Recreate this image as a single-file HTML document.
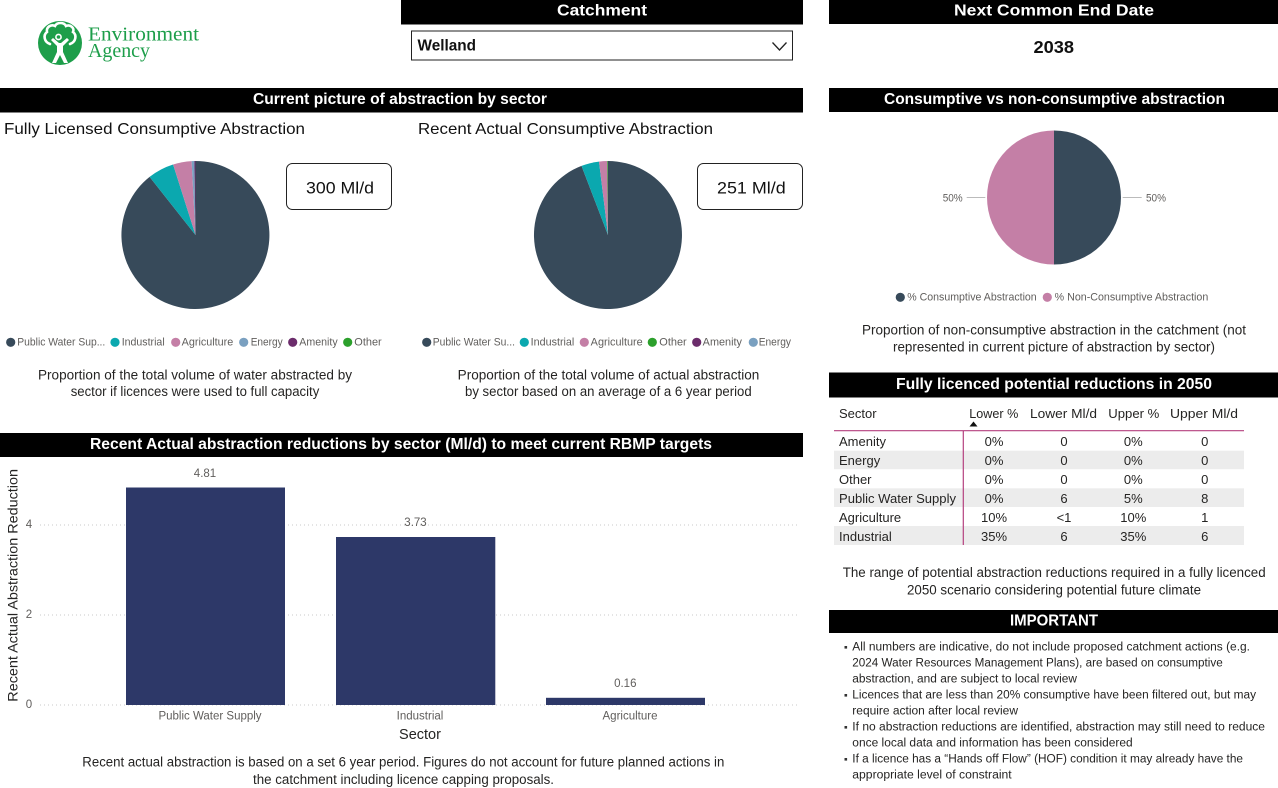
<!DOCTYPE html>
<html><head><meta charset="utf-8"><style>
html,body{margin:0;padding:0;background:#fff;width:1278px;height:788px;overflow:hidden}
svg{display:block;font-family:"Liberation Sans",Arial,sans-serif}
.hb{fill:#000}
.ht{font-weight:bold;fill:#fff;font-size:16px;dominant-baseline:central}
.cap{font-size:13.5px;fill:#252423;dominant-baseline:central}
.lg{font-size:10.6px;fill:#605e5c;dominant-baseline:central}
.tb{font-size:13px;fill:#252423;dominant-baseline:central}
.bl{font-size:11.5px;fill:#252423;dominant-baseline:central}
.ax{font-size:11.5px;fill:#605e5c;dominant-baseline:central}
</style></head><body>
<svg width="1278" height="788" viewBox="0 0 1278 788" xmlns="http://www.w3.org/2000/svg">
<rect width="1278" height="788" fill="#fff"/>

<!-- Logo -->
<circle cx="60" cy="43" r="22" fill="#1d9e4a"/>
<path d="M50,44 C44,42 43,35 47,32 C46,27 51,24 55,26 C57,22 64,22 66,26 C70,24 75,28 73,32 C77,35 76,42 70,44" fill="none" stroke="#fff" stroke-width="2.6" stroke-linecap="round"/>
<circle cx="58.5" cy="37" r="2.6" fill="none" stroke="#fff" stroke-width="1.6"/>
<path d="M51,40 L57,46 L57,52 L52,63 L56,63 L60,55 L64,63 L68,63 L63,52 L63,46 L69,40 L67,38 L61,43 L59,43 L53,38 Z" fill="#fff"/>
<text x="88" y="40.5" font-family="'Liberation Serif',serif" font-size="20" fill="#1d9e4a" textLength="111" lengthAdjust="spacingAndGlyphs">Environment</text>
<text x="88" y="57" font-family="'Liberation Serif',serif" font-size="20" fill="#1d9e4a" textLength="62" lengthAdjust="spacingAndGlyphs">Agency</text>

<!-- Catchment -->
<rect class="hb" x="401" y="0" width="402" height="24.5"/>
<text class="ht" x="557" y="11" font-size="18" textLength="90" lengthAdjust="spacingAndGlyphs">Catchment</text>
<rect x="411.5" y="31" width="381" height="29" fill="#fff" stroke="#222" stroke-width="1"/>
<text x="417.5" y="46" font-size="15.5" font-weight="bold" fill="#111" dominant-baseline="central" textLength="58.5" lengthAdjust="spacingAndGlyphs">Welland</text>
<polyline points="772.5,42.5 779.5,50 786.5,42.5" fill="none" stroke="#222" stroke-width="1.3"/>

<!-- Next common end date -->
<rect class="hb" x="829" y="0" width="449" height="24"/>
<text class="ht" x="954" y="11" font-size="18" textLength="200" lengthAdjust="spacingAndGlyphs">Next Common End Date</text>
<text x="1033.5" y="47" font-size="17.5" font-weight="bold" fill="#111" dominant-baseline="central" textLength="40.5" lengthAdjust="spacingAndGlyphs">2038</text>

<!-- Current picture bar -->
<rect class="hb" x="0" y="88" width="803" height="24.5"/>
<text class="ht" x="253" y="99.5" textLength="294" lengthAdjust="spacingAndGlyphs">Current picture of abstraction by sector</text>

<text x="4" y="129.5" font-size="16" fill="#111" dominant-baseline="central" textLength="301" lengthAdjust="spacingAndGlyphs">Fully Licensed Consumptive Abstraction</text>
<text x="418" y="129.5" font-size="16" fill="#111" dominant-baseline="central" textLength="295" lengthAdjust="spacingAndGlyphs">Recent Actual Consumptive Abstraction</text>

<!-- Pie 1 -->
<path d="M195.5,235 L195.5,161 A74,74 0 1 1 149.6,176.9 Z" fill="#374a5a"/>
<path d="M195.5,235 L149.6,176.9 A74,74 0 0 1 173.1,164.5 Z" fill="#0ba8af"/>
<path d="M195.5,235 L173.1,164.5 A74,74 0 0 1 191.6,161.1 Z" fill="#c47fa6"/>
<path d="M195.5,235 L191.6,161.1 A74,74 0 0 1 194.4,161 Z" fill="#7aa0c0"/>
<path d="M195.5,235 L194.4,161 A74,74 0 0 1 195.5,161 Z" fill="#6b2c6b"/>

<rect x="286.5" y="163.5" width="105" height="46" rx="6" fill="#fff" stroke="#222" stroke-width="1"/>
<text x="306" y="188" font-size="17" fill="#111" dominant-baseline="central" textLength="68" lengthAdjust="spacingAndGlyphs">300 Ml/d</text>

<g>
<circle cx="10.7" cy="342.3" r="4.6" fill="#374a5a"/>
<text class="lg" x="17.3" y="342.3" textLength="88" lengthAdjust="spacingAndGlyphs">Public Water Sup...</text>
<circle cx="115" cy="342.3" r="4.6" fill="#0ba8af"/>
<text class="lg" x="121.7" y="342.3" textLength="43" lengthAdjust="spacingAndGlyphs">Industrial</text>
<circle cx="175.7" cy="342.3" r="4.6" fill="#c47fa6"/>
<text class="lg" x="181.7" y="342.3" textLength="51.6" lengthAdjust="spacingAndGlyphs">Agriculture</text>
<circle cx="243.7" cy="342.3" r="4.6" fill="#7aa0c0"/>
<text class="lg" x="250.7" y="342.3" textLength="32" lengthAdjust="spacingAndGlyphs">Energy</text>
<circle cx="292.7" cy="342.3" r="4.6" fill="#6b2c6b"/>
<text class="lg" x="299.3" y="342.3" textLength="38.4" lengthAdjust="spacingAndGlyphs">Amenity</text>
<circle cx="347.7" cy="342.3" r="4.6" fill="#2ca02c"/>
<text class="lg" x="354.3" y="342.3" textLength="27.4" lengthAdjust="spacingAndGlyphs">Other</text>
</g>
<text class="cap" x="38" y="375" textLength="314" lengthAdjust="spacingAndGlyphs">Proportion of the total volume of water abstracted by</text>
<text class="cap" x="70.7" y="391.5" textLength="248.6" lengthAdjust="spacingAndGlyphs">sector if licences were used to full capacity</text>

<!-- Pie 2 -->
<path d="M608,235 L608,161 A74,74 0 1 1 581.5,165.9 Z" fill="#374a5a"/>
<path d="M608,235 L581.5,165.9 A74,74 0 0 1 599,161.6 Z" fill="#0ba8af"/>
<path d="M608,235 L599,161.6 A74,74 0 0 1 607.3,161 Z" fill="#c47fa6"/>
<path d="M608,235 L607.3,161 A74,74 0 0 1 608,161 Z" fill="#2ca02c"/>

<rect x="697.5" y="163.5" width="105" height="46" rx="6" fill="#fff" stroke="#222" stroke-width="1"/>
<text x="717" y="188" font-size="17" fill="#111" dominant-baseline="central" textLength="68.7" lengthAdjust="spacingAndGlyphs">251 Ml/d</text>

<g>
<circle cx="426.7" cy="342.3" r="4.6" fill="#374a5a"/>
<text class="lg" x="432.7" y="342.3" textLength="82.3" lengthAdjust="spacingAndGlyphs">Public Water Su...</text>
<circle cx="524.3" cy="342.3" r="4.6" fill="#0ba8af"/>
<text class="lg" x="530.7" y="342.3" textLength="43.6" lengthAdjust="spacingAndGlyphs">Industrial</text>
<circle cx="584.3" cy="342.3" r="4.6" fill="#c47fa6"/>
<text class="lg" x="590.7" y="342.3" textLength="52" lengthAdjust="spacingAndGlyphs">Agriculture</text>
<circle cx="652.3" cy="342.3" r="4.6" fill="#2ca02c"/>
<text class="lg" x="659.3" y="342.3" textLength="27.4" lengthAdjust="spacingAndGlyphs">Other</text>
<circle cx="696.7" cy="342.3" r="4.6" fill="#6b2c6b"/>
<text class="lg" x="702.7" y="342.3" textLength="39.3" lengthAdjust="spacingAndGlyphs">Amenity</text>
<circle cx="753.3" cy="342.3" r="4.6" fill="#7aa0c0"/>
<text class="lg" x="758.7" y="342.3" textLength="32.3" lengthAdjust="spacingAndGlyphs">Energy</text>
</g>
<text class="cap" x="457.7" y="375" textLength="301.6" lengthAdjust="spacingAndGlyphs">Proportion of the total volume of actual abstraction</text>
<text class="cap" x="465" y="391.5" textLength="286.7" lengthAdjust="spacingAndGlyphs">by sector based on an average of a 6 year period</text>

<!-- Consumptive vs non-consumptive -->
<rect class="hb" x="829" y="88" width="449" height="24"/>
<text class="ht" x="884" y="99.5" textLength="341" lengthAdjust="spacingAndGlyphs">Consumptive vs non-consumptive abstraction</text>
<path d="M1054,130.5 A67,67 0 0 1 1054,264.5 Z" fill="#374a5a"/>
<path d="M1054,264.5 A67,67 0 0 1 1054,130.5 Z" fill="#c47fa6"/>
<line x1="966.7" y1="197.5" x2="985.3" y2="197.5" stroke="#bbb" stroke-width="1"/>
<line x1="1122.7" y1="197.5" x2="1141.7" y2="197.5" stroke="#bbb" stroke-width="1"/>
<text class="lg" x="942.7" y="198.3" textLength="20" lengthAdjust="spacingAndGlyphs" fill="#777">50%</text>
<text class="lg" x="1146" y="198.3" textLength="20" lengthAdjust="spacingAndGlyphs" fill="#777">50%</text>
<circle cx="900.3" cy="297.3" r="4.6" fill="#374a5a"/>
<text class="lg" x="907.3" y="297.3" textLength="129.4" lengthAdjust="spacingAndGlyphs">% Consumptive Abstraction</text>
<circle cx="1047.3" cy="297.3" r="4.6" fill="#c47fa6"/>
<text class="lg" x="1054.7" y="297.3" textLength="153.6" lengthAdjust="spacingAndGlyphs">% Non-Consumptive Abstraction</text>
<text class="cap" x="862" y="330" textLength="384" lengthAdjust="spacingAndGlyphs">Proportion of non-consumptive abstraction in the catchment (not</text>
<text class="cap" x="893" y="347" textLength="322" lengthAdjust="spacingAndGlyphs">represented in current picture of abstraction by sector)</text>

<!-- Table -->
<rect class="hb" x="829" y="372.5" width="449" height="25"/>
<text class="ht" x="896" y="384.5" font-size="17" textLength="316" lengthAdjust="spacingAndGlyphs">Fully licenced potential reductions in 2050</text>
<text class="tb" x="839" y="413.7">Sector</text>
<text class="tb" x="969.3" y="413.7" textLength="49" lengthAdjust="spacingAndGlyphs">Lower %</text>
<text class="tb" x="1030" y="413.7" textLength="67" lengthAdjust="spacingAndGlyphs">Lower Ml/d</text>
<text class="tb" x="1108.3" y="413.7" textLength="51" lengthAdjust="spacingAndGlyphs">Upper %</text>
<text class="tb" x="1170" y="413.7" textLength="68" lengthAdjust="spacingAndGlyphs">Upper Ml/d</text>
<polygon points="969.5,426.5 973.5,421.5 977.5,426.5" fill="#111"/>
<rect x="834" y="450.7" width="410" height="18.5" fill="#ececec"/>
<rect x="834" y="488.3" width="410" height="18.7" fill="#ececec"/>
<rect x="834" y="526" width="410" height="19" fill="#ececec"/>
<line x1="834" y1="430.7" x2="1244" y2="430.7" stroke="#b5407f" stroke-width="1.2"/>
<line x1="963.3" y1="430.7" x2="963.3" y2="545" stroke="#b5407f" stroke-width="1.2"/>
<g class="tb">
<text class="tb" x="839" y="441.7">Amenity</text>
<text class="tb" x="839" y="460.7">Energy</text>
<text class="tb" x="839" y="479.7">Other</text>
<text class="tb" x="839" y="498.7" textLength="117" lengthAdjust="spacingAndGlyphs">Public Water Supply</text>
<text class="tb" x="839" y="517.3">Agriculture</text>
<text class="tb" x="839" y="536.3">Industrial</text>
</g>
<g text-anchor="middle">
<text class="tb" x="994" y="441.7">0%</text><text class="tb" x="1064" y="441.7">0</text><text class="tb" x="1133.3" y="441.7">0%</text><text class="tb" x="1204.7" y="441.7">0</text>
<text class="tb" x="994" y="460.7">0%</text><text class="tb" x="1064" y="460.7">0</text><text class="tb" x="1133.3" y="460.7">0%</text><text class="tb" x="1204.7" y="460.7">0</text>
<text class="tb" x="994" y="479.7">0%</text><text class="tb" x="1064" y="479.7">0</text><text class="tb" x="1133.3" y="479.7">0%</text><text class="tb" x="1204.7" y="479.7">0</text>
<text class="tb" x="994" y="498.7">0%</text><text class="tb" x="1064" y="498.7">6</text><text class="tb" x="1133.3" y="498.7">5%</text><text class="tb" x="1204.7" y="498.7">8</text>
<text class="tb" x="994" y="517.3">10%</text><text class="tb" x="1064" y="517.3">&lt;1</text><text class="tb" x="1133.3" y="517.3">10%</text><text class="tb" x="1204.7" y="517.3">1</text>
<text class="tb" x="994" y="536.3">35%</text><text class="tb" x="1064" y="536.3">6</text><text class="tb" x="1133.3" y="536.3">35%</text><text class="tb" x="1204.7" y="536.3">6</text>
</g>
<text class="cap" x="842.7" y="572.7" textLength="423" lengthAdjust="spacingAndGlyphs">The range of potential abstraction reductions required in a fully licenced</text>
<text class="cap" x="907" y="590" textLength="294" lengthAdjust="spacingAndGlyphs">2050 scenario considering potential future climate</text>

<!-- IMPORTANT -->
<rect class="hb" x="829" y="610" width="449" height="23"/>
<text class="ht" x="1010" y="621" font-size="17" textLength="88" lengthAdjust="spacingAndGlyphs">IMPORTANT</text>
<rect x="844.5" y="646" width="2.6" height="2.6" fill="#333"/>
<rect x="844.5" y="694" width="2.6" height="2.6" fill="#333"/>
<rect x="844.5" y="726" width="2.6" height="2.6" fill="#333"/>
<rect x="844.5" y="758" width="2.6" height="2.6" fill="#333"/>
<text class="bl" x="852.3" y="647.3" textLength="397.7" lengthAdjust="spacingAndGlyphs">All numbers are indicative, do not include proposed catchment actions (e.g.</text>
<text class="bl" x="852.3" y="663.3" textLength="370.4" lengthAdjust="spacingAndGlyphs">2024 Water Resources Management Plans), are based on consumptive</text>
<text class="bl" x="852.3" y="679.3" textLength="224.7" lengthAdjust="spacingAndGlyphs">abstraction, and are subject to local review</text>
<text class="bl" x="852.3" y="695.3" textLength="403.7" lengthAdjust="spacingAndGlyphs">Licences that are less than 20% consumptive have been filtered out, but may</text>
<text class="bl" x="852.3" y="711.3" textLength="165.7" lengthAdjust="spacingAndGlyphs">require action after local review</text>
<text class="bl" x="852.3" y="727.3" textLength="412.7" lengthAdjust="spacingAndGlyphs">If no abstraction reductions are identified, abstraction may still need to reduce</text>
<text class="bl" x="852.3" y="743.3" textLength="280.4" lengthAdjust="spacingAndGlyphs">once local data and information has been considered</text>
<text class="bl" x="852.3" y="759.3" textLength="390.7" lengthAdjust="spacingAndGlyphs">If a licence has a “Hands off Flow” (HOF) condition it may already have the</text>
<text class="bl" x="852.3" y="775.3" textLength="159.4" lengthAdjust="spacingAndGlyphs">appropriate level of constraint</text>

<!-- Bar chart -->
<rect class="hb" x="0" y="433" width="803" height="24"/>
<text class="ht" x="90" y="444.5" textLength="622" lengthAdjust="spacingAndGlyphs">Recent Actual abstraction reductions by sector (Ml/d) to meet current RBMP targets</text>
<g stroke="#c8c8c8" stroke-width="1" stroke-dasharray="1 3">
<line x1="40" y1="525" x2="798" y2="525"/>
<line x1="40" y1="615" x2="798" y2="615"/>
<line x1="40" y1="705" x2="798" y2="705"/>
</g>
<text class="ax" x="29" y="525" text-anchor="middle">4</text>
<text class="ax" x="29" y="615" text-anchor="middle">2</text>
<text class="ax" x="29" y="705" text-anchor="middle">0</text>
<text x="0" y="0" font-size="14" fill="#252423" dominant-baseline="central" transform="translate(12.3,701.7) rotate(-90)" textLength="232.7" lengthAdjust="spacingAndGlyphs">Recent Actual Abstraction Reduction</text>
<rect x="126" y="487.5" width="159" height="217.5" fill="#2d3868"/>
<rect x="336" y="537" width="159.3" height="168" fill="#2d3868"/>
<rect x="546" y="697.8" width="159" height="7.2" fill="#2d3868"/>
<text class="ax" x="205" y="474" text-anchor="middle" font-size="10.5">4.81</text>
<text class="ax" x="415.5" y="523" text-anchor="middle" font-size="10.5">3.73</text>
<text class="ax" x="625.3" y="684" text-anchor="middle" font-size="10.5">0.16</text>
<text class="ax" x="210" y="716.7" text-anchor="middle">Public Water Supply</text>
<text class="ax" x="420" y="716.7" text-anchor="middle">Industrial</text>
<text class="ax" x="630" y="716.7" text-anchor="middle">Agriculture</text>
<text x="420" y="735" font-size="14.5" fill="#252423" text-anchor="middle" dominant-baseline="central">Sector</text>
<text class="cap" x="82.3" y="762" textLength="642" lengthAdjust="spacingAndGlyphs">Recent actual abstraction is based on a set 6 year period. Figures do not account for future planned actions in</text>
<text class="cap" x="253" y="779.3" textLength="301" lengthAdjust="spacingAndGlyphs">the catchment including licence capping proposals.</text>
</svg>
</body></html>
